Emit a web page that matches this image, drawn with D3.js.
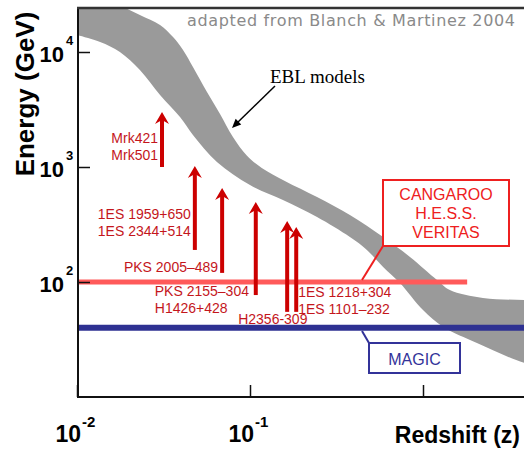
<!DOCTYPE html>
<html>
<head>
<meta charset="utf-8">
<script src="https://cdn.jsdelivr.net/npm/d3@7"></script>
<style>
  body { margin: 0; background: #fff; }
  svg { display: block; }
</style>
</head>
<body>
<script>
// EBL model band: upper and lower edges (redshift z, energy GeV)
var eblUpperZ = [0.010, 0.0136, 0.0177, 0.0231, 0.0302, 0.0359, 0.0410, 0.0468, 0.0564, 0.0671, 0.0797, 0.0961, 0.117, 0.159, 0.244, 0.378, 0.588, 0.841, 1.205, 1.43, 2.22, 3.84, 6.0];
var eblUpperE = [42000, 33300, 25600, 21000, 17200, 13500, 10400, 7400, 4490, 2890, 1820, 1250, 980, 755, 548, 383, 246, 165, 104, 85, 72.6, 69.7, 68];
var eblLowerZ = [0.010, 0.0136, 0.0177, 0.0231, 0.0302, 0.0394, 0.0468, 0.0644, 0.100, 0.155, 0.244, 0.378, 0.474, 0.588, 0.736, 1.00, 1.31, 2.05, 3.84, 6.0];
var eblLowerE = [14060, 12200, 10000, 6970, 4230, 2720, 1900, 1105, 697, 516, 367, 246, 190, 135, 98, 57, 40.6, 29.5, 19.8, 17];

// detected sources: redshift, lowest and highest measured energy
var sourceZ = [0.031, 0.048, 0.069, 0.108, 0.164, 0.185];
var sourceEmin = [1000, 190, 120, 77, 55, 55];
var sourceEmax = [2950, 1000, 644, 487, 332, 295];
var sourceNames = [
  ["Mrk421", "Mrk501"],
  ["1ES 1959+650", "1ES 2344+514"],
  ["PKS 2005\u2013489"],
  ["PKS 2155\u2013304", "H1426+428"],
  ["H2356-309"],
  ["1ES 1218+304", "1ES 1101\u2013232"]
];

// instrument thresholds
var thresholdE = [100, 40];
var thresholdZmax = [1.8, 10];
var instrumentNames = [["CANGAROO", "H.E.S.S.", "VERITAS"], ["MAGIC"]];

var yMajor = [100, 1000, 10000];
var yExp = ["2", "3", "4"];
var xMajor = [0.01, 0.1];
var xExp = ["-2", "-1"];

var width = 524, height = 454;
var plotLeft = 78, plotTop = 8, plotBottom = 397;

var x = d3.scaleLog().domain([0.01, 10]).range([77, 77 + 173 * 3]);
var y = d3.scaleLog().domain([10, 10000]).range([plotBottom, plotBottom - 115 * 3]);

var svg = d3.select("body").append("svg")
    .attr("width", width)
    .attr("height", height)
    .style("font-family", "'Liberation Sans', Arial, sans-serif");

svg.append("defs").append("clipPath").attr("id", "plotclip")
  .append("rect").attr("x", plotLeft).attr("y", plotTop)
  .attr("width", width - plotLeft).attr("height", plotBottom - plotTop);

var plot = svg.append("g").attr("clip-path", "url(#plotclip)");

// band
var lineGen = d3.line().x(function(d) { return x(d[0]); }).y(function(d) { return y(d[1]); })
    .curve(d3.curveCatmullRom.alpha(0.5));
var upper = eblUpperZ.map(function(z, i) { return [z, eblUpperE[i]]; });
var lower = eblLowerZ.map(function(z, i) { return [z, eblLowerE[i]]; }).reverse();
plot.append("path")
    .attr("d", lineGen(upper) + "L" + lineGen(lower).substring(1) + "Z")
    .attr("fill", "#9a9a9a");

// threshold lines
var thrColor = ["#ff5a5a", "#2e3192"];
var thrWidth = [5, 6];
plot.selectAll("line.thr")
  .data(thresholdE)
  .enter().append("line")
    .attr("class", "thr")
    .attr("x1", x(0.01)).attr("x2", function(d, i) { return x(thresholdZmax[i]); })
    .attr("y1", function(d) { return y(d); }).attr("y2", function(d) { return y(d); })
    .attr("stroke", function(d, i) { return thrColor[i]; })
    .attr("stroke-width", function(d, i) { return thrWidth[i]; });

// arrows
var arrows = svg.append("g").selectAll("g").data(sourceZ).enter().append("g");
arrows.append("line")
    .attr("x1", function(d) { return x(d); }).attr("x2", function(d) { return x(d); })
    .attr("y1", function(d, i) { return y(sourceEmin[i]); })
    .attr("y2", function(d, i) { return y(sourceEmax[i]) + 6; })
    .attr("stroke", "#cc0000").attr("stroke-width", 4);
arrows.append("path")
    .attr("d", "M0,-1L7,11L0,7L-7,11Z")
    .attr("transform", function(d, i) { return "translate(" + x(d) + "," + y(sourceEmax[i]) + ")"; })
    .attr("fill", "#cc0000");

// labels: anchor, dx from arrow, dy of first baseline from arrow base
var labelLayout = [
  {anchor: "end", dx: -4, dy: -24},
  {anchor: "end", dx: -4, dy: -31},
  {anchor: "end", dx: -4, dy: -1},
  {anchor: "start", dx: -101, dy: 1},
  {anchor: "start", dx: -49, dy: 12},
  {anchor: "start", dx: 2, dy: -15}
];
sourceNames.forEach(function(names, i) {
  var L = labelLayout[i];
  names.forEach(function(n, j) {
    svg.append("text")
        .attr("x", x(sourceZ[i]) + L.dx)
        .attr("y", y(sourceEmin[i]) + L.dy + j * 17)
        .attr("text-anchor", L.anchor)
        .attr("font-size", 14)
        .attr("fill", "#c4161c")
        .text(n);
  });
});

// instrument boxes
var boxes = [
  {x: 383, y: 180, w: 126, h: 66, color: "#ee2020", px: 362, py: 280, lh: 19, base: 200},
  {x: 369, y: 343, w: 91, h: 30, color: "#333399", px: 362, py: 331, lh: 0, base: 365}
];
boxes.forEach(function(b, i) {
  svg.append("line")
      .attr("x1", b.x).attr("y1", i === 0 ? b.y + b.h : b.y)
      .attr("x2", b.px).attr("y2", b.py)
      .attr("stroke", b.color).attr("stroke-width", 2);
  svg.append("rect")
      .attr("x", b.x).attr("y", b.y).attr("width", b.w).attr("height", b.h)
      .attr("fill", "#fff").attr("stroke", b.color).attr("stroke-width", 2);
  instrumentNames[i].forEach(function(n, j) {
    svg.append("text")
        .attr("x", b.x + b.w / 2).attr("y", b.base + j * b.lh)
        .attr("text-anchor", "middle")
        .attr("font-size", 16)
        .attr("fill", b.color)
        .text(n);
  });
});

// EBL models annotation
svg.append("text")
    .attr("x", 270).attr("y", 83)
    .attr("font-family", "'Liberation Serif', 'Times New Roman', serif")
    .attr("font-size", 19)
    .text("EBL models");
svg.append("line")
    .attr("x1", 275).attr("y1", 86).attr("x2", 236).attr("y2", 124)
    .attr("stroke", "#000").attr("stroke-width", 1.5);
svg.append("path")
    .attr("d", "M0,0L-9,-4L-9,4Z")
    .attr("transform", "translate(232,128) rotate(" + (Math.atan2(128 - 86, 232 - 275) * 180 / Math.PI) + ")")
    .attr("fill", "#000");

// axes
function minors(a, b) {
  var out = [];
  for (var p = a; p < b; p++) for (var m = 2; m <= 9; m++) out.push(m * Math.pow(10, p));
  return out;
}
var yAx = svg.append("g").attr("transform", "translate(" + plotLeft + ",0)");
yAx.call(d3.axisRight(y).tickValues(minors(1, 4)).tickSize(7).tickSizeOuter(0).tickFormat(""));
yAx.call(d3.axisRight(y).tickValues(yMajor).tickSize(12).tickSizeOuter(0).tickFormat(""));
yAx.selectAll(".domain").remove();
yAx.selectAll("line").attr("stroke", "#111").attr("stroke-width", 1.5);

var xMinor = minors(-2, 1).filter(function(v) { return x(v) < width; });
var xAx = svg.append("g").attr("transform", "translate(0," + plotBottom + ")");
xAx.call(d3.axisTop(x).tickValues(xMinor).tickSize(5).tickSizeOuter(0).tickFormat(""));
xAx.call(d3.axisTop(x).tickValues([0.01, 0.1, 1]).tickSize(12).tickSizeOuter(0).tickFormat(""));
xAx.selectAll(".domain").remove();
xAx.selectAll("line").attr("stroke", "#111").attr("stroke-width", 1.5);

svg.append("line").attr("x1", plotLeft).attr("x2", plotLeft).attr("y1", plotTop - 1).attr("y2", plotBottom + 1)
    .attr("stroke", "#111").attr("stroke-width", 2);
svg.append("line").attr("x1", plotLeft - 1).attr("x2", width).attr("y1", plotBottom).attr("y2", plotBottom)
    .attr("stroke", "#111").attr("stroke-width", 2);
svg.append("line").attr("x1", plotLeft - 1).attr("x2", width).attr("y1", plotTop).attr("y2", plotTop)
    .attr("stroke", "#333").attr("stroke-width", 2.5);

// tick labels
yMajor.forEach(function(v, i) {
  svg.append("text").attr("x", 64).attr("y", y(v) + 10)
      .attr("text-anchor", "end").attr("font-weight", "bold").attr("font-size", 22).text("10");
  svg.append("text").attr("x", 66).attr("y", y(v) - 7)
      .attr("font-weight", "bold").attr("font-size", 13).text(yExp[i]);
});
xMajor.forEach(function(v, i) {
  svg.append("text").attr("x", x(v) + 4).attr("y", 442)
      .attr("text-anchor", "end").attr("font-weight", "bold").attr("font-size", 23).text("10");
  svg.append("text").attr("x", x(v) + 5).attr("y", 427)
      .attr("font-weight", "bold").attr("font-size", 15).text(xExp[i]);
});

// axis titles
svg.append("text")
    .attr("transform", "translate(34,94) rotate(-90)")
    .attr("text-anchor", "middle")
    .attr("font-weight", "bold").attr("font-size", 26)
    .text("Energy (GeV)");
svg.append("text")
    .attr("x", 520).attr("y", 443)
    .attr("text-anchor", "end")
    .attr("font-weight", "bold").attr("font-size", 23)
    .text("Redshift (z)");

svg.append("text")
    .attr("x", 187).attr("y", 26)
    .attr("font-family", "'DejaVu Sans', Verdana, sans-serif")
    .attr("font-size", 16)
    .attr("textLength", 328)
    .attr("lengthAdjust", "spacing")
    .attr("fill", "#8a8a8a")
    .text("adapted from Blanch & Martinez 2004");
</script>
</body>
</html>
